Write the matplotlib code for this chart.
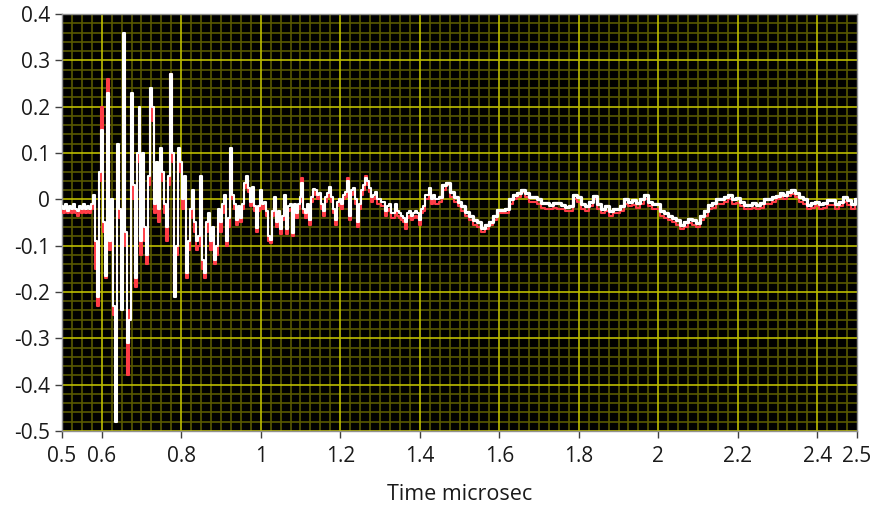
from matplotlib import pyplot as plt
from matplotlib.ticker import MultipleLocator
import numpy as np

# time base (microsec): fine part up to 1.445, coarse part from 1.45
t_fast = np.linspace(0.5, 1.445, 190)
t_slow = np.linspace(1.45, 2.5, 106)

white_fast = [
    -0.015, -0.02, -0.01, -0.025, -0.015, -0.02, -0.01, -0.02, -0.025, -0.015,
    -0.02, -0.01, -0.02, -0.015, -0.02, -0.01, 0.01, -0.09, -0.21, 0.06,
    0.15, -0.05, -0.165, 0.23, -0.09, 0.0, -0.23, -0.48, 0.12, -0.02,
    -0.24, 0.36, -0.07, -0.31, -0.26, 0.23, 0.03, -0.17, 0.1, 0.2,
    -0.09, 0.1, -0.06, -0.12, 0.05, 0.24, 0.2, -0.01, 0.08, -0.02,
    0.11, 0.06, -0.01, -0.06, 0.05, 0.27, 0.1, -0.21, -0.1, 0.11,
    0.08, 0.0, 0.05, -0.16, -0.09, -0.02, 0.02, -0.05, -0.09, -0.08,
    0.05, -0.13, -0.16, -0.05, -0.03, -0.09, -0.06, -0.13, -0.1, -0.02,
    -0.05, -0.01, 0.01, -0.09, -0.04, 0.11, 0.01, -0.01, -0.045, -0.015,
    -0.04, -0.01, 0.035, 0.05, 0.025, -0.005, 0.027, -0.015, -0.063, -0.015,
    0.02, -0.01, -0.005, -0.025, -0.08, -0.088, -0.025, 0.005, -0.05, -0.025,
    -0.065, -0.035, 0.01, -0.065, -0.015, -0.01, -0.073, -0.01, -0.03, -0.01,
    0.005, 0.035, -0.02, -0.03, -0.01, -0.045, 0.005, 0.023, 0.02, 0.01,
    0.013, -0.01, -0.025, 0.005, 0.013, 0.027, 0.005, -0.02, -0.045, -0.005,
    0.0, -0.01, 0.01, 0.015, 0.04, -0.035, 0.02, 0.025, 0.0, -0.05,
    -0.01, 0.02, 0.03, 0.045, 0.04, 0.025, 0.005, 0.01, 0.015, 0.0,
    0.0, -0.005, -0.005, -0.025, -0.015, -0.01, -0.03, -0.03, -0.01, -0.025,
    -0.03, -0.035, -0.04, -0.05, -0.03, -0.025, -0.035, -0.03, -0.025, -0.03,
    -0.045, -0.02, -0.015, 0.01, 0.01, 0.025, 0.0, 0.01, 0.0, 0.0,
]
red_fast = [
    -0.025, -0.03, -0.02, -0.03, -0.025, -0.03, -0.02, -0.03, -0.035, -0.025,
    -0.03, -0.02, -0.03, -0.025, -0.03, -0.02, 0.0, -0.15, -0.23, 0.04,
    0.2, -0.07, -0.17, 0.26, -0.11, -0.02, -0.25, -0.3, 0.1, -0.04,
    -0.2, 0.26, -0.1, -0.38, -0.24, 0.2, 0.0, -0.19, 0.08, 0.18,
    -0.12, 0.08, -0.09, -0.14, 0.03, 0.22, 0.17, -0.03, 0.06, -0.05,
    0.09, 0.04, -0.03, -0.09, 0.03, 0.27, 0.08, -0.2, -0.12, 0.09,
    0.06, -0.02, 0.03, -0.17, -0.11, -0.04, 0.0, -0.07, -0.11, -0.1,
    0.03, -0.15, -0.17, -0.07, -0.05, -0.11, -0.08, -0.14, -0.12, -0.04,
    -0.07, -0.03, -0.01, -0.1, -0.06, 0.09, 0.0, -0.02, -0.055, -0.025,
    -0.05, -0.02, 0.025, 0.045, 0.015, -0.015, 0.02, -0.025, -0.07, -0.025,
    0.01, -0.02, -0.015, -0.035, -0.09, -0.095, -0.035, -0.005, -0.06, -0.035,
    -0.075, -0.045, 0.0, -0.075, -0.025, -0.02, -0.08, -0.02, -0.04, -0.02,
    -0.005, 0.045, -0.03, -0.04, -0.02, -0.055, -0.005, 0.015, 0.01, 0.0,
    0.005, -0.02, -0.035, -0.005, 0.005, 0.02, -0.005, -0.03, -0.055, -0.015,
    -0.01, -0.02, 0.0, 0.005, 0.045, -0.045, 0.01, 0.015, -0.01, -0.06,
    -0.02, 0.01, 0.02, 0.05, 0.03, 0.015, -0.005, 0.0, 0.005, -0.01,
    -0.01, -0.015, -0.015, -0.035, -0.025, -0.02, -0.04, -0.04, -0.02, -0.035,
    -0.04, -0.045, -0.05, -0.065, -0.04, -0.035, -0.045, -0.04, -0.035, -0.04,
    -0.055, -0.03, -0.025, 0.0, 0.0, 0.015, -0.01, 0.0, -0.01, -0.01,
]
white_slow = [
    0.005, 0.03, 0.035, 0.015, 0.005, -0.005, -0.015, -0.027, -0.035, -0.045,
    -0.05, -0.063, -0.055, -0.048, -0.037, -0.023, -0.023, -0.02, 0.0, 0.01,
    0.013, 0.02, 0.013, 0.005, 0.005, 0.0, -0.008, -0.008, -0.012, -0.008,
    -0.008, -0.012, -0.016, -0.015, 0.01, 0.005, -0.01, -0.015, -0.005, 0.008,
    -0.01, -0.02, -0.015, -0.025, -0.02, -0.02, -0.015, 0.0, -0.005, -0.002,
    -0.008, 0.0, 0.01, -0.005, -0.01, -0.01, -0.025, -0.03, -0.035, -0.04,
    -0.045, -0.055, -0.05, -0.042, -0.045, -0.052, -0.035, -0.025, -0.012, -0.008,
    0.0, 0.0, 0.005, 0.01, 0.0, 0.003, -0.005, -0.012, -0.012, -0.008,
    -0.012, -0.008, 0.0, 0.0, 0.005, 0.008, 0.013, 0.01, 0.016, 0.02,
    0.013, 0.005, 0.0, -0.012, -0.008, -0.005, -0.01, -0.008, -0.002, -0.002,
    -0.01, -0.005, 0.005, -0.002, -0.01, 0.0,
]
red_slow = [
    -0.005, 0.02, 0.03, 0.005, -0.005, -0.015, -0.025, -0.035, -0.045, -0.055,
    -0.06, -0.07, -0.065, -0.055, -0.045, -0.03, -0.03, -0.03, -0.01, 0.0,
    0.005, 0.015, 0.005, -0.005, -0.005, -0.01, -0.018, -0.02, -0.022, -0.018,
    -0.02, -0.022, -0.026, -0.025, 0.0, -0.005, -0.02, -0.025, -0.015, 0.0,
    -0.02, -0.03, -0.025, -0.035, -0.03, -0.03, -0.025, -0.01, -0.015, -0.012,
    -0.018, -0.01, 0.0, -0.015, -0.02, -0.02, -0.035, -0.04, -0.045, -0.05,
    -0.055, -0.065, -0.06, -0.052, -0.055, -0.06, -0.045, -0.035, -0.022, -0.018,
    -0.01, -0.01, -0.005, 0.0, -0.01, -0.007, -0.015, -0.022, -0.022, -0.018,
    -0.022, -0.018, -0.01, -0.01, -0.005, 0.0, 0.005, 0.0, 0.008, 0.012,
    0.005, -0.005, -0.01, -0.022, -0.018, -0.015, -0.02, -0.018, -0.012, -0.012,
    -0.02, -0.015, -0.005, -0.012, -0.02, -0.01,
]

x_ticks = [0.5, 0.6, 0.8, 1, 1.2, 1.4, 1.6, 1.8, 2, 2.2, 2.4, 2.5]
x_labels = ["0.5", "0.6", "0.8", "1", "1.2", "1.4", "1.6", "1.8", "2", "2.2", "2.4", "2.5"]
y_ticks = [0.4, 0.3, 0.2, 0.1, 0, -0.1, -0.2, -0.3, -0.4, -0.5]
y_labels = ["0.4", "0.3", "0.2", "0.1", "0", "-0.1", "-0.2", "-0.3", "-0.4", "-0.5"]

t = np.concatenate([t_fast, t_slow])
white = np.concatenate([white_fast, white_slow])
red = np.concatenate([red_fast, red_slow])

plt.rcParams['font.family'] = ['Open Sans', 'DejaVu Sans']

fig = plt.figure(figsize=(8.73, 5.07), dpi=100)
ax = fig.add_axes([0.071, 0.150, 0.9107, 0.8224])
ax.set_facecolor("black")

ax.plot(t, red, color="#ff3c46", lw=1.5, drawstyle="steps-mid", zorder=3)
ax.plot(t, white, color="white", lw=1.5, drawstyle="steps-mid", zorder=4)
# the quieter tail looks like a thicker band
ax.plot(t_slow, white_slow, color="white", lw=2.3, drawstyle="steps-mid", zorder=4)

ax.set_xlim(0.5, 2.5)
ax.set_ylim(-0.5, 0.4)

# grid: minor olive, major yellow
ax.xaxis.set_minor_locator(MultipleLocator(0.025))
ax.yaxis.set_minor_locator(MultipleLocator(0.02))
ax.grid(which="minor", color="#585800", lw=1.2, zorder=1)
for xv in np.arange(0.6, 2.41, 0.2):
    ax.axvline(xv, color="#bcbc00", lw=1.2, zorder=2)
for yv in y_ticks:
    ax.axhline(yv, color="#bcbc00", lw=1.2, zorder=2)

ax.set_xticks(x_ticks)
ax.set_xticklabels(x_labels)
ax.set_yticks(y_ticks)
ax.set_yticklabels(y_labels)
ax.tick_params(axis="x", which="major", pad=6)
ax.tick_params(which="major", length=5, width=1, color="#404040",
               labelsize=15, labelcolor="#1a1a1a")
ax.tick_params(which="minor", length=0)
for s in ax.spines.values():
    s.set_color("#909090")
    s.set_linewidth(1)

ax.set_xlabel("Time microsec", fontsize=15.5, color="#1a1a1a", labelpad=12)

fig.savefig("out.png", dpi=100)
